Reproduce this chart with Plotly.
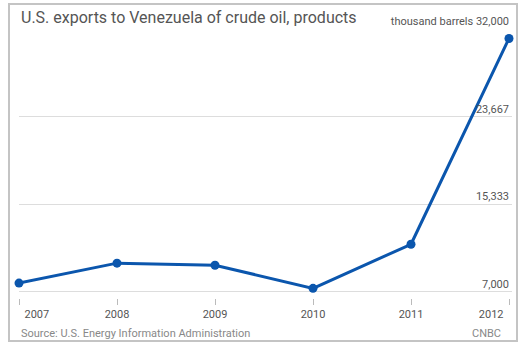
import plotly.graph_objects as go

years = [2007, 2008, 2009, 2010, 2011, 2012]
exports = [7800, 9700, 9500, 7300, 11500, 31100]
y_tickvals = [7000, 15333, 23667, 32000]
y_ticktext = ["7,000", "15,333", "23,667", "thousand barrels 32,000"]
x_ticktext = ["2007", "2008", "2009", "2010", "2011", "2012"]

W, H = 529, 351
L, R, T, B = 19, 17, 29, 53  # plot area: x 19..512, y 29..298
pw = W - L - R
ph = H - T - B
xrange = [2007, 2012 + 3 / 98]

fig = go.Figure()
fig.add_trace(go.Scatter(
    x=years, y=exports, mode="lines+markers",
    line=dict(color="#0b56ad", width=3),
    marker=dict(color="#0b56ad", size=9),
    cliponaxis=False, hoverinfo="skip", showlegend=False,
))
# invisible helpers so the overlaid label axes for the end years get drawn
for ax in ("x2", "x3"):
    fig.add_trace(go.Scatter(
        x=years, y=exports, xaxis=ax, yaxis="y", mode="markers",
        marker=dict(opacity=0), hoverinfo="skip", showlegend=False,
    ))

font = "Roboto, 'DejaVu Sans', sans-serif"
common_x = dict(
    range=xrange, showgrid=False, zeroline=False, showline=False, automargin=False,
    ticklabeloverflow="allow", tickfont=dict(size=11, color="#555"), fixedrange=True,
)
fig.update_layout(
    width=W, height=H,
    margin=dict(l=L, r=R, t=T, b=B, autoexpand=False),
    paper_bgcolor="white", plot_bgcolor="white",
    font=dict(family=font, color="#555", size=11),
    xaxis=dict(
        tickvals=years, ticktext=[""] + x_ticktext[1:-1] + [""],
        ticks="outside", ticklen=6, tickcolor="#bbbbbb", tickwidth=1,
        **common_x,
    ),
    xaxis2=dict(
        overlaying="x", anchor="y", side="bottom",
        tickvals=years[:1], ticktext=x_ticktext[:1], ticks="outside", ticklen=6,
        tickcolor="rgba(0,0,0,0)", ticklabelposition="outside right",
        ticklabelshift=5, ticklabelstandoff=6,
        **common_x,
    ),
    xaxis3=dict(
        overlaying="x", anchor="y", side="bottom",
        tickvals=years[-1:], ticktext=x_ticktext[-1:], ticks="outside", ticklen=6,
        tickcolor="rgba(0,0,0,0)", ticklabelposition="outside left",
        ticklabelshift=-5, ticklabelstandoff=6,
        **common_x,
    ),
    yaxis=dict(
        range=[7000 - 6.5 / 0.0105, 32000], tickvals=y_tickvals, ticktext=y_ticktext,
        side="right", ticklabelposition="inside top", ticklabeloverflow="allow",
        showgrid=True, gridcolor="#dddddd", gridwidth=1, zeroline=False, showline=False,
        automargin=False,
        ticks="", tickfont=dict(size=11, color="#555"), fixedrange=True,
    ),
    shapes=[dict(
        type="rect", xref="paper", yref="paper",
        x0=(9 - L) / pw, x1=(517 - L) / pw,
        y0=(298 - 341) / ph, y1=(298 - 4) / ph,
        line=dict(color="#c4c4c4", width=2), fillcolor="rgba(0,0,0,0)", layer="below",
    )],
    annotations=[
        dict(text="U.S. exports to Venezuela of crude oil, products", xref="paper", yref="paper",
             x=0, y=(298 - 17) / ph, xanchor="left", yanchor="middle", showarrow=False,
             font=dict(size=16, color="#555", family=font)),
        dict(text="Source: U.S. Energy Information Administration", xref="paper", yref="paper",
             x=0, y=(298 - 333) / ph, xanchor="left", yanchor="middle", showarrow=False,
             font=dict(size=11, color="#888", family=font)),
        dict(text="CNBC", xref="paper", yref="paper",
             x=(503 - L) / pw, y=(298 - 333) / ph, xanchor="right", yanchor="middle", showarrow=False,
             font=dict(size=11, color="#888", family=font)),
    ],
)

fig.write_html("out.html")
